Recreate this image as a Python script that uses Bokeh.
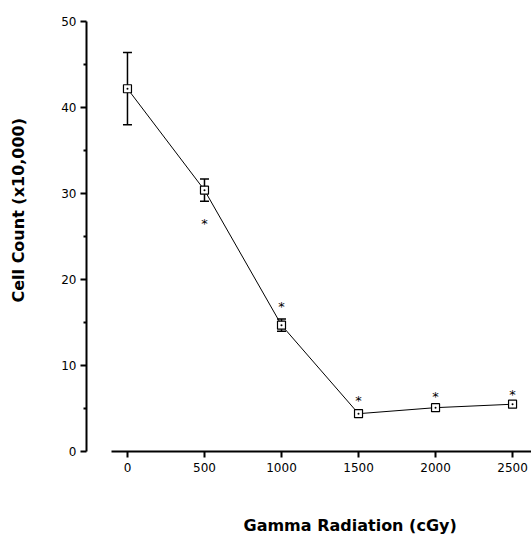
from bokeh.plotting import figure
from bokeh.models import (Range1d, FixedTicker, Whisker, TeeHead, ColumnDataSource,
                          Title, LinearAxis)
from bokeh.core.properties import value
from bokeh.embed import file_html
from bokeh.resources import INLINE

# Cell count after gamma irradiation (mean, +/- error)
dose = [0, 500, 1000, 1500, 2000, 2500]
count = [42.2, 30.4, 14.7, 4.4, 5.1, 5.5]
err = [4.2, 1.3, 0.7, 0.4, 0.0, 0.0]

# significance markers
star_dose = [500, 1000, 1500, 2000, 2500]
star_y = [26.9, 17.2, 6.3, 6.8, 7.0]

x_ticks = [0, 500, 1000, 1500, 2000, 2500]
y_ticks = [0, 10, 20, 30, 40, 50]
y_minor = [5, 15, 25, 35, 45]

X_START, X_END = -266, 2623
Y_START, Y_END = 0, 51.3

p = figure(width=531, height=534, output_backend="svg", toolbar_location=None,
           x_range=Range1d(X_START, X_END), y_range=Range1d(Y_START, Y_END),
           x_axis_type=None, y_axis_type=None,
           min_border_left=86, min_border_right=0, min_border_top=10, min_border_bottom=83)
p.outline_line_color = None
p.xgrid.visible = False
p.ygrid.visible = False
p.background_fill_color = "white"
p.border_fill_color = "white"


def style_axis(ax):
    ax.axis_line_width = 2
    ax.major_tick_line_width = 2
    ax.major_tick_in = 0
    ax.major_tick_out = 6
    ax.major_label_text_font = "DejaVu Sans"
    ax.major_label_text_font_size = "12px"
    ax.major_label_text_color = "black"
    # blank label used only as a spacer before the title
    ax.axis_label = " "
    ax.axis_label_text_font_size = "1px"


yax = LinearAxis(ticker=FixedTicker(ticks=y_ticks, minor_ticks=y_minor), bounds=(0, 50))
style_axis(yax)
yax.minor_tick_line_width = 2
yax.minor_tick_in = 0
yax.minor_tick_out = 3
yax.major_label_standoff = 4
yax.axis_label_standoff = 26
p.add_layout(yax, "left")

xax = LinearAxis(ticker=FixedTicker(ticks=x_ticks), bounds=(-102, X_END))
style_axis(xax)
xax.minor_tick_line_color = None
xax.major_label_standoff = 5
xax.axis_label_standoff = 35
p.add_layout(xax, "below")

src = ColumnDataSource(dict(x=dose, y=count))
p.line("x", "y", source=src, line_color="black", line_width=1)

eb_x = [d for d, e in zip(dose, err) if e > 0]
eb_lo = [c - e for c, e in zip(count, err) if e > 0]
eb_hi = [c + e for c, e in zip(count, err) if e > 0]
esrc = ColumnDataSource(dict(x=eb_x, lo=eb_lo, hi=eb_hi))
p.add_layout(Whisker(source=esrc, base="x", lower="lo", upper="hi",
                     line_color="black", line_width=1.5,
                     upper_head=TeeHead(size=9, line_width=1.5, line_color="black"),
                     lower_head=TeeHead(size=9, line_width=1.5, line_color="black")))

p.scatter("x", "y", source=src, marker="square_dot", size=8,
          fill_color="white", line_color="black", line_width=1.2)

ssrc = ColumnDataSource(dict(x=star_dose, y=star_y, t=["*"] * len(star_dose)))
p.text("x", "y", text="t", source=ssrc, text_font=value("DejaVu Sans"),
       text_font_size="13px", text_align="center", text_baseline="middle",
       y_offset=3, text_color="black")

# axis titles, set in the side panels
p.add_layout(Title(text="Gamma Radiation (cGy)", align="left", offset=157,
                   standoff=0, text_font="DejaVu Sans", text_font_style="bold",
                   text_font_size="16px", text_color="black"), "below")
p.add_layout(Title(text="Cell Count (x10,000)", align="left", offset=149,
                   standoff=2, text_font="DejaVu Sans", text_font_style="bold",
                   text_font_size="16px", text_color="black"), "left")

open("out.html", "w").write(file_html(p, INLINE))
